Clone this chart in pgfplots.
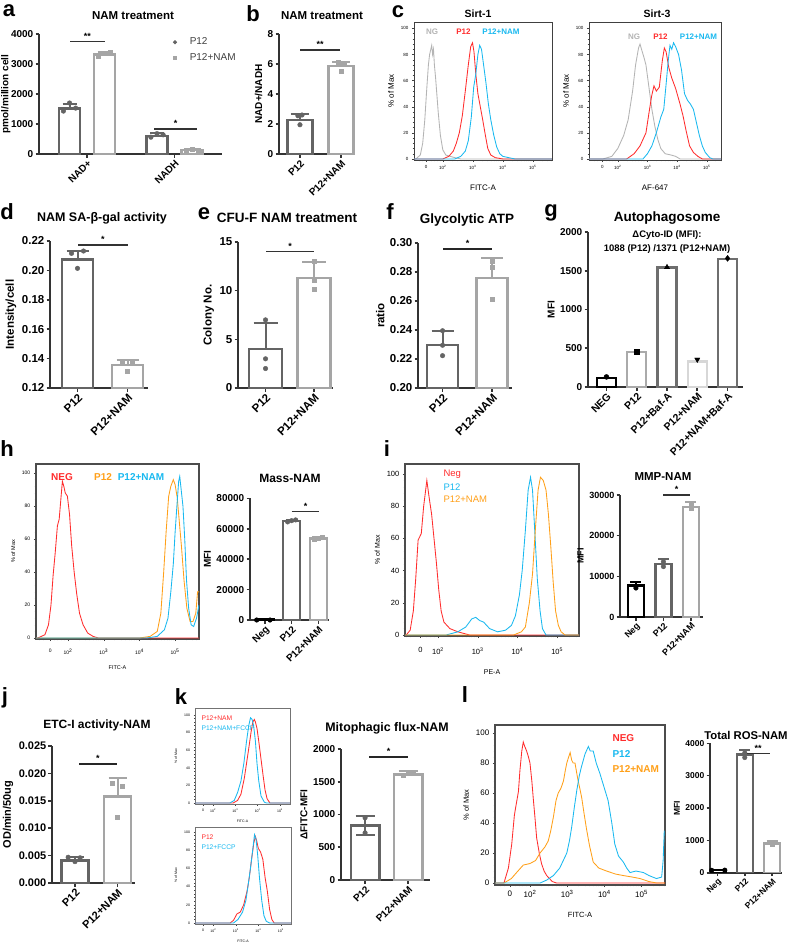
\documentclass[border=0pt]{standalone}
\usepackage{pgfplots}
\pgfplotsset{compat=1.18}
\usepackage{fontspec}
\setmainfont{Liberation Sans}
\newcommand\ft[1]{\fontsize{#1}{#1}\selectfont}
\definecolor{dg}{RGB}{100,100,100}
\definecolor{lg}{RGB}{165,165,165}
\definecolor{ga}{RGB}{170,170,170}
\definecolor{gb}{RGB}{110,110,110}
\definecolor{gc}{RGB}{215,215,215}
\definecolor{fred}{RGB}{255,45,45}
\definecolor{fblue}{RGB}{25,185,240}
\definecolor{forange}{RGB}{255,160,25}
\definecolor{fgray}{RGB}{180,180,180}
\pgfplotsset{
 barax/.style={scale only axis, anchor=south west, axis x line*=bottom, axis y line*=left,
   axis line style={line width=1.6pt, black!80}, tick style={line width=1.6pt, black!80},
   tick align=outside, major tick length=3.5pt, xtick={0,1}, ymin=0, scaled y ticks=false,
   /pgf/number format/assume math mode=true, /pgf/number format/1000 sep={},
   xticklabel style={rotate=45, anchor=north east, inner sep=1pt},
   yticklabel style={inner sep=2pt}},
 tf/.style={tick label style={font=\bfseries\ft{#1}}, ylabel style={font=\bfseries\ft{#1}}},
 bp/.style n args={3}{ybar, bar width=#2, draw=#1, fill=white, line width=2.4pt, forget plot,
   error bars/y dir=plus, error bars/y explicit,
   error bars/error bar style={line width=2pt, #1},
   error bars/error mark options={line width=2pt, #1, mark size=#3, rotate=90}},
 bq/.style 2 args={ybar, bar width=#2, draw=#1, fill=white, line width=2.4pt, forget plot},
 dots/.style={only marks, mark=*, mark size=2.3pt, #1, forget plot},
 sq/.style={only marks, mark=square*, mark size=2pt, #1, forget plot},
 flowax/.style={scale only axis, anchor=south west, axis line style={line width=0.7pt, black!75},
   tick style={black!75, line width=0.4pt}, tick align=outside, xtick pos=bottom, ytick pos=left,
   major tick length=2.2pt, minor tick length=1.3pt,
   ytick={0,20,40,60,80,100}, minor ytick={4,8,12,16,24,28,32,36,44,48,52,56,64,68,72,76,84,88,92,96},
   xtick={#1,2,3,4,5}, xticklabels={0,10\textsuperscript{2},10\textsuperscript{3},10\textsuperscript{4},10\textsuperscript{5}},
   minor xtick={1.2,1.3,1.6,1.7,1.8,1.9,2.301,2.477,2.602,2.699,2.778,2.845,2.903,2.954,3.301,3.477,3.602,3.699,3.778,3.845,3.903,3.954,4.301,4.477,4.602,4.699,4.778,4.845,4.903,4.954,5.301,5.477,5.602},
   /pgf/number format/assume math mode=true},
 ff/.style 2 args={tick label style={font=\ft{#1}}, label style={font=\ft{#2}}},
 fc/.style={#1, line width=0.85pt, no marks},
}
\begin{document}
\begin{tikzpicture}
\useasboundingbox (0,0) rectangle (787pt,-946pt);
\fill[white] (0,0) rectangle (787pt,-946pt);
% ---------------- panel a
\begin{axis}[barax, tf=10, at={(39pt,-154pt)}, width=183pt, height=120pt, xmin=-0.549, xmax=1.543, ymax=4000,
  ytick={0,1000,2000,3000,4000}, xticklabels={NAD+,NADH}, ylabel={pmol/million cell}, ylabel shift=-5pt,
  legend style={at={(0.732,0.985)}, anchor=north west, draw=none, fill=none, font=\ft{10}, text=black!75, inner sep=0pt, row sep=3pt,
    /tikz/every odd column/.append style={column sep=11pt}},
  legend cell align=left]
\addplot[bp={dg}{21pt}{7pt}] coordinates {(-0.2,1520) +- (0,160)};
\addplot[bp={lg}{21pt}{7pt}] coordinates {(0.2,3320) +- (0,70)};
\addplot[bp={dg}{21pt}{7pt}] coordinates {(0.8,610) +- (0,90)};
\addplot[bp={lg}{21pt}{7pt}] coordinates {(1.2,130) +- (0,30)};
\addplot[dots=dg] coordinates {(-0.27,1430)(-0.2,1700)(-0.13,1530)(0.73,560)(0.8,680)(0.87,640)};
\addplot[sq=lg] coordinates {(0.13,3270)(0.2,3360)(0.27,3380)(1.13,120)(1.2,150)(1.27,130)};
\addlegendimage{only marks, mark=*, mark size=1.8pt, dg}\addlegendentry{P12}
\addlegendimage{only marks, mark=square*, mark size=1.6pt, lg}\addlegendentry{P12+NAM}
\end{axis}
% ---------------- panel b
\begin{axis}[barax, tf=10, at={(279pt,-154pt)}, width=76pt, height=120pt, xmin=-0.51, xmax=1.34, ymax=8,
  ytick={0,2,4,6,8}, xticklabels={P12,P12+NAM}, ylabel={NAD+/NADH}]
\addplot[bp={dg}{25pt}{9pt}] coordinates {(0,2.25) +- (0,0.4)};
\addplot[bp={lg}{25pt}{9pt}] coordinates {(1,5.85) +- (0,0.3)};
\addplot[dots=dg] coordinates {(-0.05,2.55)(0,1.95)(0.05,2.6)};
\addplot[sq=lg] coordinates {(0.93,6.1)(1,5.55)(1.07,6.05)};
\end{axis}
% ---------------- panel c Sirt-1
\begin{axis}[flowax=1.44, ff={4.5}{8}, at={(414pt,-160pt)}, width=138pt, height=138pt, xmin=1.04, xmax=5.64, ymin=-0.8, ymax=104.9,
  ylabel={\% of Max}, xlabel={FITC-A}, xlabel style={yshift=-8pt}]
\addplot[fc=fgray] coordinates {(1.04,0)(1.10,0)(1.25,3)(1.33,12)(1.40,30)(1.46,52)(1.52,72)(1.56,80)(1.60,84)(1.63,87)(1.66,80)(1.69,84)(1.72,72)(1.76,62)(1.80,50)(1.85,35)(1.92,18)(2.0,7)(2.1,3)(2.25,2)(2.4,1)(2.6,0)(5.64,0)};
\addplot[fc=fred] coordinates {(1.04,0)(2.0,0)(2.2,2)(2.35,6)(2.45,12)(2.55,20)(2.65,33)(2.75,52)(2.85,72)(2.93,86)(2.99,89)(3.04,82)(3.1,65)(3.17,50)(3.25,40)(3.33,30)(3.42,18)(3.5,8)(3.6,3)(3.75,1)(4.0,0)(5.64,0)};
\addplot[fc=fblue] coordinates {(1.04,0)(2.4,0)(2.6,2)(2.75,6)(2.85,14)(2.95,32)(3.03,55)(3.1,65)(3.17,80)(3.23,87)(3.29,84)(3.36,72)(3.44,58)(3.52,42)(3.6,30)(3.7,18)(3.8,9)(3.9,4)(4.0,2)(4.2,1)(4.4,0)(5.64,0)};
\end{axis}
% ---------------- panel c Sirt-3
\begin{axis}[flowax=1.48, ff={4.5}{8}, at={(589pt,-160pt)}, width=132pt, height=138pt, xmin=1.03, xmax=5.48, ymin=-0.8, ymax=104.9,
  ylabel={\% of Max}, xlabel={AF-647}, xlabel style={yshift=-8pt}]
\addplot[fc=fgray] coordinates {(1.03,0)(1.5,0)(1.8,2)(2.0,8)(2.2,18)(2.35,30)(2.5,52)(2.6,72)(2.7,85)(2.75,88)(2.8,84)(2.88,78)(2.95,72)(3.05,55)(3.15,38)(3.25,25)(3.35,15)(3.45,8)(3.6,4)(3.8,3)(3.95,2)(4.1,0)(5.48,0)};
\addplot[fc=fred] coordinates {(1.03,0)(2.3,0)(2.55,4)(2.75,10)(2.95,20)(3.05,35)(3.14,48)(3.22,56)(3.3,52)(3.4,55)(3.5,75)(3.57,85)(3.63,82)(3.72,70)(3.82,62)(3.95,54)(4.1,42)(4.2,33)(4.3,22)(4.42,10)(4.55,5)(4.7,2)(4.85,0)(5.48,0)};
\addplot[fc=fblue] coordinates {(1.03,0)(2.85,0)(3.0,4)(3.15,10)(3.3,20)(3.45,32)(3.55,38)(3.62,55)(3.7,75)(3.76,87)(3.82,84)(3.88,89)(3.95,86)(4.05,80)(4.15,68)(4.25,50)(4.35,45)(4.45,42)(4.55,38)(4.65,28)(4.75,18)(4.85,10)(4.95,5)(5.1,1)(5.2,0)(5.48,0)};
\end{axis}
% ---------------- panel d
\begin{axis}[barax, tf=11.5, at={(50pt,-388pt)}, width=98pt, height=147pt, xmin=-0.55, xmax=1.41, ymin=0.12, ymax=0.22,
  ytick={0.12,0.14,0.16,0.18,0.2,0.22}, yticklabel style={/pgf/number format/fixed, /pgf/number format/fixed zerofill, /pgf/number format/precision=2},
  xticklabels={P12,P12+NAM}, ylabel={Intensity/cell}]
\addplot[bp={dg}{31pt}{11pt}] coordinates {(0,0.2075) +- (0,0.0055)};
\addplot[bp={lg}{31pt}{11pt}] coordinates {(1,0.1355) +- (0,0.0035)};
\addplot[dots=dg] coordinates {(-0.12,0.2116)(0.12,0.2132)(0,0.2014)};
\addplot[sq=lg] coordinates {(0.9,0.1385)(1.1,0.1385)(1,0.1316)};
\end{axis}
% ---------------- panel e
\begin{axis}[barax, tf=11.5, at={(238pt,-388pt)}, width=95pt, height=146pt, xmin=-0.567, xmax=1.39, ymax=15,
  ytick={0,5,10,15}, xticklabels={P12,P12+NAM}, ylabel={Colony No.}]
\addplot[bp={dg}{33pt}{12pt}] coordinates {(0,4.0) +- (0,2.7)};
\addplot[bp={lg}{33pt}{12pt}] coordinates {(1,11.3) +- (0,1.6)};
\addplot[dots=dg] coordinates {(0,7.0)(0,3.0)(0,2.0)};
\addplot[sq=lg] coordinates {(1,13.0)(1,10.2)(1,11.1)};
\end{axis}
% ---------------- panel f
\begin{axis}[barax, tf=11.5, at={(418pt,-388pt)}, width=94pt, height=145pt, xmin=-0.495, xmax=1.40, ymin=0.2, ymax=0.3,
  ytick={0.2,0.22,0.24,0.26,0.28,0.3}, yticklabel style={/pgf/number format/fixed, /pgf/number format/fixed zerofill, /pgf/number format/precision=2},
  xticklabels={P12,P12+NAM}, ylabel={ratio}]
\addplot[bp={dg}{31pt}{11pt}] coordinates {(0,0.2295) +- (0,0.0095)};
\addplot[bp={lg}{31pt}{11pt}] coordinates {(1,0.2757) +- (0,0.0143)};
\addplot[dots=dg] coordinates {(0,0.2395)(0,0.2295)(0,0.2223)};
\addplot[sq=lg] coordinates {(1,0.2875)(1,0.2835)(1,0.261)};
\end{axis}
% ---------------- panel g
\begin{axis}[barax, tf=10, at={(588pt,-387pt)}, width=155pt, height=155pt, xmin=-0.61, xmax=4.51, ymax=2000,
  ytick={0,500,1000,1500,2000}, xtick={0,1,2,3,4}, xticklabels={NEG,P12,P12+Baf-A,P12+NAM,P12+NAM+Baf-A}, ylabel={MFI},
  xticklabel style={font=\bfseries\ft{10.5}}]
\addplot[bq={black}{19pt}] coordinates {(0,115)};
\addplot[bq={ga}{19pt}] coordinates {(1,450)};
\addplot[bq={gb}{19pt}] coordinates {(2,1540)};
\addplot[bq={gc}{19pt}] coordinates {(3,330)};
\addplot[bq={gb}{19pt}] coordinates {(4,1650)};
\addplot[only marks, mark=*, mark size=2.5pt, black] coordinates {(0,130)};
\addplot[only marks, mark=square*, mark size=2.4pt, black] coordinates {(1,460)};
\addplot[only marks, mark=triangle*, mark size=3pt, black] coordinates {(2,1545)};
\addplot[only marks, mark=triangle*, mark size=3pt, mark options={rotate=180}, black] coordinates {(3,355)};
\addplot[only marks, mark=diamond*, mark size=3pt, black] coordinates {(4,1660)};
\end{axis}
% ---------------- panel h flow
\begin{axis}[flowax=1.50, ff={5}{5.5}, at={(36pt,-639pt)}, width=163pt, height=175pt, xmin=1.10, xmax=5.67, ymin=-0.6, ymax=105.5,
  ylabel={\% of Max}, xlabel={FITC-A}, axis line style={line width=1.1pt, black!70},
  xticklabel style={yshift=-4pt}, xlabel style={yshift=-4pt}]
\addplot[fc=fred] coordinates {(1.10,0)(1.15,0)(1.35,2)(1.45,8)(1.52,20)(1.58,38)(1.64,52)(1.7,68)(1.75,72)(1.8,85)(1.84,95)(1.88,92)(1.92,88)(1.98,86)(2.04,75)(2.1,56)(2.17,40)(2.24,27)(2.32,15)(2.42,8)(2.55,3)(2.7,1)(2.85,0)(5.67,0)};
\addplot[fc=forange] coordinates {(1.10,0)(4.0,0)(4.3,1)(4.5,4)(4.6,15)(4.68,40)(4.75,65)(4.82,86)(4.88,92)(4.95,96)(5.0,93)(5.06,85)(5.12,70)(5.18,55)(5.25,35)(5.33,18)(5.42,10)(5.5,10)(5.58,15)(5.63,28)(5.67,28)};
\addplot[fc=fblue] coordinates {(1.10,0)(4.2,0)(4.5,1)(4.7,5)(4.8,12)(4.88,28)(4.95,45)(5.0,64)(5.05,80)(5.1,95)(5.13,98)(5.17,90)(5.22,80)(5.27,60)(5.32,35)(5.38,18)(5.45,8)(5.52,7)(5.6,12)(5.67,20)};
\end{axis}
% ---------------- panel h bar
\begin{axis}[barax, tf=10, at={(250pt,-620pt)}, width=79pt, height=121.7pt, xmin=-0.56, xmax=2.4, ymax=80000,
  ytick={0,20000,40000,60000,80000}, xtick={0,1,2}, xticklabels={Neg,P12,P12+NAM}, ylabel={MFI}]
\addplot[bq={black}{17pt}] coordinates {(0,300)};
\addplot[bp={dg}{17pt}{6pt}] coordinates {(1,65000) +- (0,1000)};
\addplot[bp={lg}{17pt}{6pt}] coordinates {(2,53500) +- (0,1200)};
\addplot[dots=black] coordinates {(-0.31,0)(0.19,0)};
\addplot[dots=dg] coordinates {(0.85,64500)(1,65300)(1.15,65800)};
\addplot[sq=lg] coordinates {(1.85,53000)(2,54000)(2.15,54200)};
\end{axis}
% ---------------- panel i flow
\begin{axis}[flowax=1.56, ff={7.5}{7}, at={(405pt,-636pt)}, width=174pt, height=172pt, xmin=1.17, xmax=5.55, ymin=-0.6, ymax=106.2,
  ylabel={\% of Max}, xlabel={PE-A}, axis line style={line width=1.1pt, black!70},
  xticklabel style={yshift=-6pt}, xlabel style={yshift=-8pt}]
\addplot[fc=fred] coordinates {(1.17,0)(1.2,0)(1.3,3)(1.38,15)(1.44,35)(1.5,59)(1.58,63)(1.64,80)(1.72,96)(1.78,85)(1.84,75)(1.9,60)(1.96,45)(2.02,28)(2.08,15)(2.15,8)(2.3,4)(2.5,2)(2.8,0)(5.55,0)};
\addplot[fc=fblue] coordinates {(1.17,0)(2.2,0)(2.5,2)(2.7,5)(2.85,10)(2.95,11)(3.05,9)(3.15,8)(3.3,4)(3.5,2)(3.7,3)(3.85,6)(3.95,12)(4.05,25)(4.12,40)(4.2,65)(4.27,90)(4.33,98)(4.38,90)(4.44,63)(4.5,35)(4.57,15)(4.63,4)(4.72,0)(5.55,0)};
\addplot[fc=forange] coordinates {(1.17,0)(3.9,0)(4.1,2)(4.2,5)(4.3,20)(4.38,38)(4.45,65)(4.52,90)(4.58,98)(4.65,96)(4.72,90)(4.78,75)(4.84,55)(4.9,33)(4.96,15)(5.03,6)(5.1,2)(5.2,0)(5.55,0)};
\end{axis}
% ---------------- panel i bar
\begin{axis}[barax, tf=9, at={(620pt,-617pt)}, width=83pt, height=122pt, xmin=-0.58, xmax=2.44, ymax=30000,
  ytick={0,10000,20000,30000}, xtick={0,1,2}, xticklabels={Neg,P12,P12+NAM}, ylabel={MFI}]
\addplot[bp={black}{16pt}{5.5pt}] coordinates {(0,7700) +- (0,900)};
\addplot[bp={dg}{16pt}{5.5pt}] coordinates {(1,13000) +- (0,1300)};
\addplot[bp={lg}{16pt}{5.5pt}] coordinates {(2,27100) +- (0,1100)};
\addplot[dots=black] coordinates {(0,7130)};
\addplot[dots=dg] coordinates {(1,12400)(1,13600)};
\addplot[sq=lg] coordinates {(2,26800)(2,27600)};
\end{axis}
% ---------------- panel j
\begin{axis}[barax, tf=11, at={(52pt,-883pt)}, width=83pt, height=137pt, xmin=-0.54, xmax=1.41, ymax=0.025,
  ytick={0,0.005,0.01,0.015,0.02,0.025}, yticklabel style={/pgf/number format/fixed, /pgf/number format/fixed zerofill, /pgf/number format/precision=3},
  xticklabels={P12,P12+NAM}, ylabel={OD/min/50ug}]
\addplot[bp={dg}{27pt}{9pt}] coordinates {(0,0.0041) +- (0,0.0006)};
\addplot[bp={lg}{27pt}{9pt}] coordinates {(1,0.0158) +- (0,0.0034)};
\addplot[dots=dg] coordinates {(-0.16,0.0047)(0,0.0039)(0.12,0.0046)};
\addplot[sq=lg] coordinates {(0.88,0.0182)(1.1,0.0177)(1,0.0121)};
\end{axis}
% ---------------- panel k flows
\begin{axis}[flowax=1.55, ff={3.5}{3.5}, at={(195pt,-804pt)}, width=95pt, height=96pt, xmin=1.19, xmax=5.45, ymin=-1.1, ymax=108,
  ylabel={\% of Max}, xlabel={FITC-A}, major tick length=1.5pt, minor tick length=0.8pt, axis line style={line width=0.6pt, black!55}]
\addplot[fc=fred] coordinates {(1.19,0)(2.9,0)(3.1,3)(3.25,10)(3.4,28)(3.5,45)(3.6,62)(3.7,80)(3.78,92)(3.85,95)(3.9,92)(3.97,85)(4.05,70)(4.15,50)(4.25,30)(4.33,15)(4.42,5)(4.55,0)(5.45,0)};
\addplot[fc=fblue] coordinates {(1.19,0)(2.75,0)(2.95,3)(3.1,12)(3.25,25)(3.38,45)(3.5,70)(3.6,88)(3.68,97)(3.75,95)(3.82,88)(3.9,70)(3.97,45)(4.05,25)(4.15,8)(4.3,1)(4.4,0)(5.45,0)};
\end{axis}
\begin{axis}[flowax=1.55, ff={3.5}{3.5}, at={(195pt,-924pt)}, width=96pt, height=97pt, xmin=1.19, xmax=5.45, ymin=-1.1, ymax=105.5,
  ylabel={\% of Max}, xlabel={FITC-A}, major tick length=1.5pt, minor tick length=0.8pt, axis line style={line width=0.6pt, black!55}]
\addplot[fc=fred] coordinates {(1.19,0)(2.75,0)(2.9,3)(3.05,10)(3.2,12)(3.35,20)(3.5,35)(3.6,50)(3.7,70)(3.8,88)(3.87,95)(3.93,90)(4.0,82)(4.1,78)(4.2,70)(4.3,50)(4.4,35)(4.5,15)(4.6,4)(4.7,0)(5.45,0)};
\addplot[fc=fblue] coordinates {(1.19,0)(2.9,0)(3.1,4)(3.3,12)(3.45,25)(3.55,42)(3.65,60)(3.75,80)(3.83,97)(3.9,92)(3.97,75)(4.05,50)(4.15,25)(4.25,8)(4.35,2)(4.5,0)(5.45,0)};
\end{axis}
% ---------------- panel k bar
\begin{axis}[barax, tf=10, at={(341pt,-880pt)}, width=89pt, height=131pt, xmin=-0.56, xmax=1.51, ymax=2000,
  ytick={0,500,1000,1500,2000}, xticklabels={P12,P12+NAM}, ylabel={ΔFITC-MFI}]
\addplot[bp={dg}{28.5pt}{9.5pt}, error bars/y dir=both] coordinates {(0,830) +- (0,150)};
\addplot[bp={lg}{28.5pt}{9.5pt}] coordinates {(1,1610) +- (0,50)};
\addplot[dots=dg] coordinates {(0,950)(0,720)};
\addplot[sq=lg] coordinates {(0.88,1600)(1,1640)(1.12,1650)};
\end{axis}
% ---------------- panel l flow
\begin{axis}[flowax=1.46, ff={8}{7.5}, at={(495pt,-885pt)}, width=170pt, height=160pt, xmin=1.06, xmax=5.63, ymin=-1.3, ymax=105.3,
  ylabel={\% of Max}, xlabel={FITC-A}, axis line style={line width=1.1pt, black!70},
  xlabel style={yshift=-8pt}]
\addplot[fc=fred] coordinates {(1.06,0)(1.3,0)(1.42,10)(1.51,26)(1.58,45)(1.62,51)(1.69,61)(1.73,75)(1.78,88)(1.82,94)(1.86,91)(1.91,88)(1.96,84)(2.0,80)(2.05,68)(2.09,56)(2.14,42)(2.18,30)(2.25,20)(2.31,13)(2.38,8)(2.45,5)(2.6,1)(2.72,0)(5.63,0)};
\addplot[fc=forange] coordinates {(1.06,0)(1.3,0)(1.5,3)(1.64,7)(1.82,12)(2.0,13)(2.15,15)(2.27,20)(2.4,24)(2.49,28)(2.56,35)(2.63,44)(2.7,55)(2.76,60)(2.83,63)(2.9,68)(2.95,75)(2.99,80)(3.04,84)(3.08,87)(3.12,82)(3.16,80)(3.21,80)(3.28,70)(3.34,63)(3.39,57)(3.45,47)(3.52,36)(3.6,25)(3.7,14)(3.85,10)(4.06,8)(4.3,6)(4.51,5)(4.75,4)(4.96,3)(5.2,1)(5.41,0)(5.63,0)};
\addplot[fc=fblue] coordinates {(1.06,0)(2.27,0)(2.45,2)(2.63,5)(2.8,10)(2.99,20)(3.06,28)(3.12,37)(3.19,50)(3.26,62)(3.33,72)(3.39,78)(3.48,86)(3.57,91)(3.62,88)(3.7,88)(3.78,80)(3.88,73)(3.99,64)(4.1,55)(4.2,40)(4.28,26)(4.38,18)(4.51,14)(4.6,10)(4.69,7)(4.85,8)(5.05,7)(5.2,5)(5.4,3)(5.54,4)(5.58,15)(5.61,35)};
\end{axis}
% ---------------- panel l bar
\begin{axis}[barax, tf=8.5, at={(710pt,-872.7pt)}, width=72pt, height=129.4pt, xmin=-0.27, xmax=2.36, ymax=4000,
  ytick={0,1000,2000,3000,4000}, xtick={0,1,2}, xticklabels={Neg,P12,P12+NAM}, ylabel={MFI}]
\addplot[bq={black}{16pt}] coordinates {(0,80)};
\addplot[bp={dg}{16pt}{5.5pt}] coordinates {(1,3650) +- (0,130)};
\addplot[bp={lg}{16pt}{5.5pt}] coordinates {(2,900) +- (0,80)};
\addplot[dots=black] coordinates {(-0.21,75)(0.27,80)};
\addplot[dots=dg] coordinates {(1,3560)(1,3700)};
\addplot[sq=lg] coordinates {(2,880)(2,940)};
\end{axis}
% ---------------- panel letters
\begin{scope}[every node/.style={font=\bfseries\ft{22}, inner sep=0pt}]
\node at (9pt,-11pt) {a};
\node at (253pt,-14pt) {b};
\node at (398pt,-12pt) {c};
\node at (7pt,-212pt) {d};
\node at (204pt,-214pt) {e};
\node at (390pt,-212pt) {f};
\node at (551pt,-213pt) {g};
\node at (7pt,-449pt) {h};
\node at (387pt,-449pt) {i};
\node at (5pt,-698pt) {j};
\node at (181pt,-697pt) {k};
\node at (465pt,-695pt) {l};
\end{scope}
% ---------------- titles
\node[font=\bfseries\ft{11.5}] at (133pt,-16pt) {NAM treatment};
\node[font=\bfseries\ft{11.5}] at (322pt,-16pt) {NAM treatment};
\node[font=\bfseries\ft{10.5}] at (478pt,-14pt) {Sirt-1};
\node[font=\bfseries\ft{10.5}] at (657pt,-14pt) {Sirt-3};
\node[font=\bfseries\ft{12.5}] at (102pt,-218pt) {NAM SA-β-gal activity};
\node[font=\bfseries\ft{13.5}] at (287pt,-218pt) {CFU-F NAM treatment};
\node[font=\bfseries\ft{13.5}] at (467pt,-220pt) {Glycolytic ATP};
\node[font=\bfseries\ft{13.5}] at (667pt,-218pt) {Autophagosome};
\node[font=\bfseries\ft{9.5}] at (667pt,-235pt) {ΔCyto-ID (MFI):};
\node[font=\bfseries\ft{9.5}] at (667pt,-249pt) {1088 (P12) /1371 (P12+NAM)};
\node[font=\bfseries\ft{12}] at (290pt,-478pt) {Mass-NAM};
\node[font=\bfseries\ft{11.5}] at (663pt,-477pt) {MMP-NAM};
\node[font=\bfseries\ft{12}] at (97pt,-725pt) {ETC-I activity-NAM};
\node[font=\bfseries\ft{12.4}] at (387pt,-728pt) {Mitophagic flux-NAM};
\node[font=\bfseries\ft{11.3}] at (746pt,-735pt) {Total ROS-NAM};
% ---------------- flow legends
\node[font=\bfseries\ft{8}, text=fgray] at (432pt,-32pt) {NG};
\node[font=\bfseries\ft{8}, text=fred] at (463.5pt,-32pt) {P12};
\node[font=\bfseries\ft{8}, text=fblue] at (501pt,-32pt) {P12+NAM};
\node[font=\bfseries\ft{8}, text=fgray] at (634pt,-37pt) {NG};
\node[font=\bfseries\ft{8}, text=fred] at (660.5pt,-37pt) {P12};
\node[font=\bfseries\ft{8}, text=fblue] at (698.5pt,-37pt) {P12+NAM};
\node[font=\bfseries\ft{10}, text=fred] at (62pt,-477pt) {NEG};
\node[font=\bfseries\ft{10}, text=forange] at (103pt,-477pt) {P12};
\node[font=\bfseries\ft{10}, text=fblue] at (141pt,-477pt) {P12+NAM};
\node[font=\ft{9.5}, text=fred, anchor=west] at (440pt,-474pt) {Neg};
\node[font=\ft{9.5}, text=fblue, anchor=west] at (440pt,-487pt) {P12};
\node[font=\ft{9.5}, text=forange, anchor=west] at (440pt,-499pt) {P12+NAM};
\node[font=\ft{6.7}, text=fred, anchor=west] at (198pt,-718pt) {P12+NAM};
\node[font=\ft{6.7}, text=fblue, anchor=west] at (198pt,-728pt) {P12+NAM+FCCP};
\node[font=\ft{6.7}, text=fred, anchor=west] at (198pt,-837pt) {P12};
\node[font=\ft{6.7}, text=fblue, anchor=west] at (198pt,-847pt) {P12+FCCP};
\node[font=\bfseries\ft{10}, text=fred, anchor=west] at (609pt,-738pt) {NEG};
\node[font=\bfseries\ft{10}, text=fblue, anchor=west] at (609pt,-754pt) {P12};
\node[font=\bfseries\ft{10}, text=forange, anchor=west] at (609pt,-769pt) {P12+NAM};
% ---------------- significance
\begin{scope}[every node/.style={font=\bfseries\ft{9}, inner sep=0pt}]
\draw[line width=1.3pt, black!80] (70pt,-41.7pt) -- (105pt,-41.7pt); \node at (87.5pt,-36pt) {**};
\draw[line width=1.3pt, black!80] (154pt,-129pt) -- (197pt,-129pt); \node at (175.5pt,-123.5pt) {*};
\draw[line width=1.3pt, black!80] (300pt,-50pt) -- (340pt,-50pt); \node at (320pt,-44.5pt) {**};
\draw[line width=1.3pt, black!80] (78pt,-245pt) -- (128pt,-245pt); \node at (103pt,-239.5pt) {*};
\draw[line width=1.3pt, black!80] (266pt,-251.7pt) -- (314pt,-251.7pt); \node at (290pt,-246pt) {*};
\draw[line width=2pt, black!85] (443pt,-249.3pt) -- (492pt,-249.3pt); \node at (467.5pt,-243pt) {*};
\draw[line width=1.2pt, black!80] (291.7pt,-511.7pt) -- (319.3pt,-511.7pt); \node at (305.5pt,-506pt) {*};
\draw[line width=1.2pt, black!80] (663pt,-495pt) -- (690pt,-495pt); \node at (676.5pt,-489.5pt) {*};
\draw[line width=2pt, black!85] (79pt,-764pt) -- (117pt,-764pt); \node at (98pt,-758pt) {*};
\draw[line width=2pt, black!85] (369pt,-757.3pt) -- (408pt,-757.3pt); \node at (388.5pt,-751pt) {*};
\draw[line width=1.2pt, black!80] (746.7pt,-753.3pt) -- (770pt,-753.3pt); \node at (758pt,-748pt) {**};
\end{scope}
\end{tikzpicture}
\end{document}
